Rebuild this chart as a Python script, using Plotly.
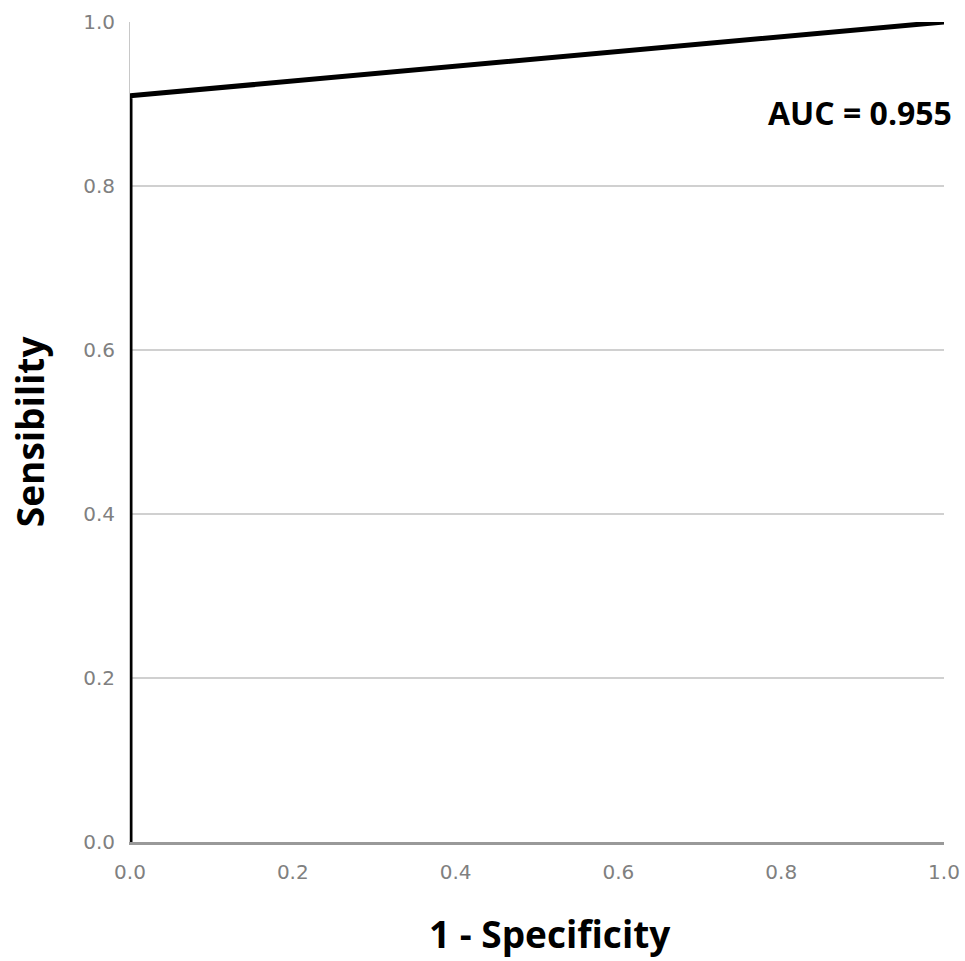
import plotly.graph_objects as go

fpr = [0.0, 0.0, 1.0]
tpr = [0.0, 0.91, 1.0]
tick_vals = [0.0, 0.2, 0.4, 0.6, 0.8, 1.0]
tick_text = ["0.0", "0.2", "0.4", "0.6", "0.8", "1.0"]
auc_label = "AUC = 0.955"
x_title = "1 - Specificity"
y_title = "Sensibility"

fig = go.Figure()
fig.add_trace(go.Scatter(x=fpr, y=tpr, mode="lines",
                         line=dict(color="black", width=5), showlegend=False))

fig.add_annotation(x=1.0, y=0.89, xref="x", yref="y", text=auc_label,
                   showarrow=False, xanchor="right", yanchor="middle", xshift=10,
                   font=dict(family="Open Sans", size=32, color="black", weight="bold"))
fig.add_annotation(x=0.516, y=0, xref="paper", yref="paper", text=x_title,
                   showarrow=False, xanchor="center", yanchor="middle", yshift=-91,
                   font=dict(family="Open Sans", size=37, color="black", weight="bold"))
fig.add_annotation(x=0, y=0.501, xref="paper", yref="paper", text=y_title,
                   showarrow=False, xanchor="center", yanchor="middle", xshift=-101,
                   textangle=-90,
                   font=dict(family="Open Sans", size=37, color="black", weight="bold"))

tick_font = dict(family="DejaVu Sans", size=20, color="#808080")

fig.update_layout(
    width=965, height=961,
    margin=dict(l=130, r=21, t=22, b=119),
    plot_bgcolor="white", paper_bgcolor="white",
    xaxis=dict(range=[0, 1], tickvals=tick_vals, ticktext=tick_text,
               showgrid=False, zeroline=False, showline=True, automargin=False,
               linecolor="#999999", linewidth=3, ticks="", ticklen=0,
               ticklabelstandoff=10, tickfont=tick_font),
    yaxis=dict(range=[0, 1], tickvals=tick_vals, ticktext=tick_text,
               showgrid=True, gridcolor="#d0d0d0", gridwidth=2, automargin=False,
               zeroline=False, showline=True, linecolor="#c8c8c8", linewidth=1,
               ticks="", ticklabelstandoff=10, tickfont=tick_font),
)

fig.write_html("out.html", config={"displayModeBar": False},
               post_script="document.body.style.margin='0';")
